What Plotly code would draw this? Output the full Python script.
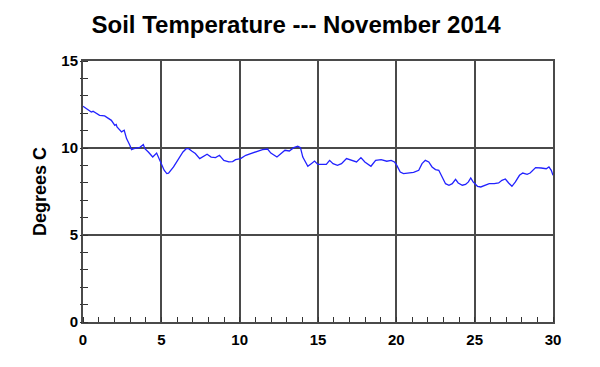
import plotly.graph_objects as go

days = [0.0, 0.2, 0.53, 0.64, 0.85, 1.06, 1.38, 1.6, 1.81, 2.03, 2.12, 2.17, 2.35, 2.46, 2.63, 2.78,
        2.99, 3.1, 3.25, 3.42, 3.63, 3.85, 3.95, 4.17, 4.45, 4.7, 4.81, 5.03, 5.18, 5.35, 5.46,
        5.78, 6.1, 6.38, 6.59, 6.74, 6.96, 7.17, 7.45, 7.7, 7.92, 8.18, 8.46, 8.71, 8.99, 9.31,
        9.55, 9.74, 10.06, 10.39, 10.82, 11.14, 11.46, 11.78, 11.99, 12.38, 12.64, 12.89, 13.17,
        13.45, 13.71, 13.88, 14.03, 14.35, 14.57, 14.78, 14.99, 15.32, 15.53, 15.74, 15.96,
        16.24, 16.5, 16.82, 17.14, 17.46, 17.74, 17.99, 18.38, 18.68, 19.03, 19.39, 19.67,
        19.88, 20.03, 20.25, 20.46, 20.78, 21.1, 21.43, 21.64, 21.85, 22.07, 22.28, 22.5,
        22.71, 22.84, 22.97, 23.14, 23.36, 23.57, 23.78, 23.95, 24.21, 24.42, 24.6, 24.75,
        24.9, 25.18, 25.39, 25.71, 25.93, 26.25, 26.53, 26.74, 26.96, 27.17, 27.38, 27.6,
        27.86, 28.07, 28.35, 28.54, 28.71, 28.89, 29.25, 29.57, 29.74, 29.89, 30.0]
temps = [12.40, 12.26, 12.07, 12.11, 12.01, 11.88, 11.84, 11.69, 11.59, 11.30, 11.35, 11.21, 11.02, 10.93, 11.02, 10.54,
         10.16, 9.91, 9.96, 10.0, 10.04, 10.2, 9.96, 9.77, 9.48, 9.71, 9.48, 9.0, 8.72, 8.53, 8.55,
         8.91, 9.39, 9.77, 9.96, 9.96, 9.81, 9.68, 9.39, 9.52, 9.64, 9.48, 9.45, 9.58, 9.29, 9.2,
         9.22, 9.33, 9.39, 9.58, 9.71, 9.77, 9.91, 9.94, 9.71, 9.48, 9.68, 9.87, 9.83,
         10.02, 10.1, 10.02, 9.48, 8.95, 9.1, 9.25, 9.06, 9.05, 9.06, 9.29, 9.1,
         9.0, 9.1, 9.39, 9.29, 9.2, 9.45, 9.2, 8.95, 9.29, 9.33, 9.24, 9.29,
         9.2, 9.0, 8.62, 8.53, 8.56, 8.6, 8.72, 9.1, 9.29, 9.2, 8.91, 8.76,
         8.72, 8.49, 8.24, 7.95, 7.86, 7.95, 8.2, 7.99, 7.86, 7.91, 8.05, 8.28,
         8.05, 7.8, 7.76, 7.86, 7.95, 7.95, 7.99, 8.14, 8.22, 7.99, 7.8, 8.05,
         8.43, 8.56, 8.49, 8.56, 8.72, 8.87, 8.85, 8.81, 8.91, 8.72, 8.43]

x_ticks = [0, 5, 10, 15, 20, 25, 30]
y_ticks = [0, 5, 10, 15]
y_minor = list(range(0, 16))

font_family = "Liberation Sans, Arial, sans-serif"
grid_color = "#4a4a4a"

fig = go.Figure()
fig.add_trace(go.Scatter(x=days, y=temps, mode="lines",
                         line=dict(color="#2222ff", width=1.3),
                         hoverinfo="skip", showlegend=False))
# invisible trace to activate the secondary y axis carrying outward tick stubs
fig.add_trace(go.Scatter(x=[None], y=[None], yaxis="y2", showlegend=False, hoverinfo="skip"))

fig.update_layout(
    width=600, height=367,
    margin=dict(l=75, r=55, t=53, b=53, autoexpand=False),
    paper_bgcolor="white", plot_bgcolor="white",
    title=dict(text="<b>Soil Temperature --- November 2014</b>",
               x=0.48, xanchor="center", y=0.956, yanchor="middle",
               font=dict(family=font_family, size=24, color="black")),
    font=dict(family=font_family, color="black"),
    xaxis=dict(range=[0, 30], tickvals=x_ticks,
               ticktext=[f"<b>{v}</b>" for v in x_ticks],
               tickfont=dict(size=15), showgrid=True, gridcolor=grid_color, gridwidth=1.5,
               showline=True, linecolor=grid_color, linewidth=2, mirror=True,
               ticks="", zeroline=False, automargin=False, ticklabelstandoff=3,
               minor=dict(dtick=1, tick0=0, ticks="inside", ticklen=5, tickcolor="#333",
                          showgrid=False)),
    yaxis=dict(range=[0, 15], tickvals=y_ticks,
               ticktext=[f"<b>{v}</b>" for v in y_ticks],
               tickfont=dict(size=15), showgrid=True, gridcolor=grid_color, gridwidth=1.5,
               showline=True, linecolor=grid_color, linewidth=2, mirror=True,
               ticks="", zeroline=False, automargin=False,
               title=dict(text="<b>Degrees C</b>", font=dict(size=18), standoff=10),
               minor=dict(dtick=1, tick0=0, ticks="inside", ticklen=5, tickcolor="#333",
                          showgrid=False)),
    yaxis2=dict(range=[0, 15], overlaying="y", side="left", tickvals=y_minor,
                showticklabels=False, ticks="outside", ticklen=2, tickcolor="#333",
                showgrid=False, zeroline=False, showline=False, automargin=False),
)

fig.write_html("out.html")
